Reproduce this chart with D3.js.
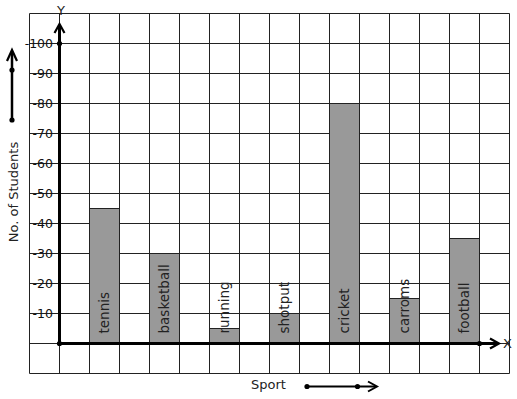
<!DOCTYPE html>
<html>
<head>
<meta charset="utf-8">
<script src="https://cdn.jsdelivr.net/npm/d3@7"></script>
<style>
  html, body { margin: 0; padding: 0; background: #fff; }
  svg { display: block; font-family: "DejaVu Sans", sans-serif; }
</style>
</head>
<body>
<svg id="chart" width="517" height="399"></svg>
<script>
// ---- data ----
const categories = ["tennis", "basketball", "running", "shotput", "cricket", "carroms", "football"];
const students = [45, 30, 5, 10, 80, 15, 35];
const yTicks = [10, 20, 30, 40, 50, 60, 70, 80, 90, 100];
const xLabel = "Sport";
const yLabel = "No. of Students";

const svg = d3.select("#chart");

// grid-unit scales (1 column = 1 unit; 1 row = 10 students)
const x = d3.scaleLinear().domain([0, 16]).range([29.5, 509.5]);
const y = d3.scaleLinear().domain([-10, 110]).range([373.5, 13.5]);
const barCol = d3.scaleOrdinal().domain(categories).range(categories.map((c, i) => 2 + 2 * i));

// grid
const g = svg.append("g");
g.selectAll("line.v").data(d3.range(0, 17)).join("line")
  .attr("x1", d => x(d)).attr("x2", d => x(d))
  .attr("y1", y(110)).attr("y2", y(-10))
  .attr("stroke", "#222").attr("stroke-width", 1);
g.selectAll("line.h").data(d3.range(-10, 111, 10)).join("line")
  .attr("y1", d => y(d)).attr("y2", d => y(d))
  .attr("x1", x(0)).attr("x2", x(16))
  .attr("stroke", "#222").attr("stroke-width", 1);

// bars
const data = categories.map((c, i) => ({ c, v: students[i] }));
svg.selectAll("rect.bar").data(data).join("rect")
  .attr("x", d => x(barCol(d.c)))
  .attr("width", d => x(barCol(d.c) + 1) - x(barCol(d.c)))
  .attr("y", d => y(d.v))
  .attr("height", d => y(0) - y(d.v))
  .attr("fill", "#999999")
  .attr("stroke", "#222").attr("stroke-width", 1);

// category labels (rotated, inside bars)
svg.selectAll("text.cat").data(data).join("text")
  .attr("transform", d => `translate(${x(barCol(d.c) + 0.5)},${y(0) - 10}) rotate(-90)`)
  .attr("dy", "0.36em")
  .attr("text-anchor", "start")
  .attr("font-size", "13.5px")
  .attr("fill", "#222")
  .text(d => d.c);

// y tick labels
const yAxis = d3.axisLeft(y).tickValues(yTicks).tickSize(0).tickPadding(0)
  .tickFormat(d => "-" + d);
const ya = svg.append("g").attr("transform", "translate(53,0)").call(yAxis);
ya.select(".domain").remove();
ya.selectAll("text").attr("font-size", "12.5px").attr("fill", "#111")
  .attr("font-family", "DejaVu Sans, sans-serif");

// axes
const axisColor = "#000";
function chevronUp(cx, tip, w, h) {
  return `M${cx - w},${tip + h}L${cx},${tip}L${cx + w},${tip + h}`;
}
function chevronRight(tip, cy, w, h) {
  return `M${tip - w},${cy - h}L${tip},${cy}L${tip - w},${cy + h}`;
}
// Y axis
svg.append("line").attr("x1", x(1)).attr("x2", x(1)).attr("y1", y(0)).attr("y2", 25)
  .attr("stroke", axisColor).attr("stroke-width", 3);
svg.append("path").attr("d", chevronUp(x(1), 24, 5, 9))
  .attr("fill", "none").attr("stroke", axisColor).attr("stroke-width", 2.2);
// X axis
svg.append("line").attr("x1", x(1)).attr("x2", 498).attr("y1", y(0)).attr("y2", y(0))
  .attr("stroke", axisColor).attr("stroke-width", 3);
svg.append("path").attr("d", chevronRight(499, y(0), 9, 5))
  .attr("fill", "none").attr("stroke", axisColor).attr("stroke-width", 2.2);
// dots
[[x(1), y(0)], [x(1), y(100)], [x(15), y(0)]].forEach(p => {
  svg.append("circle").attr("cx", p[0]).attr("cy", p[1]).attr("r", 2.6).attr("fill", axisColor);
});
svg.append("text").attr("x", 503).attr("y", y(0)).attr("dy", "0.36em")
  .attr("font-size", "13px").attr("fill", "#222").text("X");
svg.append("text").attr("x", 61).attr("y", 10).attr("dy", "0.36em").attr("text-anchor", "middle")
  .attr("font-size", "13px").attr("fill", "#222").text("Y");

// left direction arrow + label
svg.append("line").attr("x1", 12).attr("x2", 12).attr("y1", 120).attr("y2", 52)
  .attr("stroke", axisColor).attr("stroke-width", 2.5);
svg.append("path").attr("d", chevronUp(12, 50, 5, 11))
  .attr("fill", "none").attr("stroke", axisColor).attr("stroke-width", 2.2);
[[12, 70], [12, 120]].forEach(p => {
  svg.append("circle").attr("cx", p[0]).attr("cy", p[1]).attr("r", 2.6).attr("fill", axisColor);
});
svg.append("text").attr("transform", "translate(13,192) rotate(-90)")
  .attr("dy", "0.36em").attr("text-anchor", "middle")
  .attr("font-size", "13px").attr("fill", "#222").text(yLabel);

// bottom direction arrow + label
svg.append("text").attr("x", 251).attr("y", 389)
  .attr("font-size", "13px").attr("fill", "#222").text(xLabel);
svg.append("line").attr("x1", 307).attr("x2", 376).attr("y1", 386.5).attr("y2", 386.5)
  .attr("stroke", axisColor).attr("stroke-width", 2);
svg.append("path").attr("d", chevronRight(377, 386.5, 9, 5))
  .attr("fill", "none").attr("stroke", axisColor).attr("stroke-width", 2);
[[307, 386.5], [357.5, 386.5]].forEach(p => {
  svg.append("circle").attr("cx", p[0]).attr("cy", p[1]).attr("r", 2.6).attr("fill", axisColor);
});
</script>
</body>
</html>
